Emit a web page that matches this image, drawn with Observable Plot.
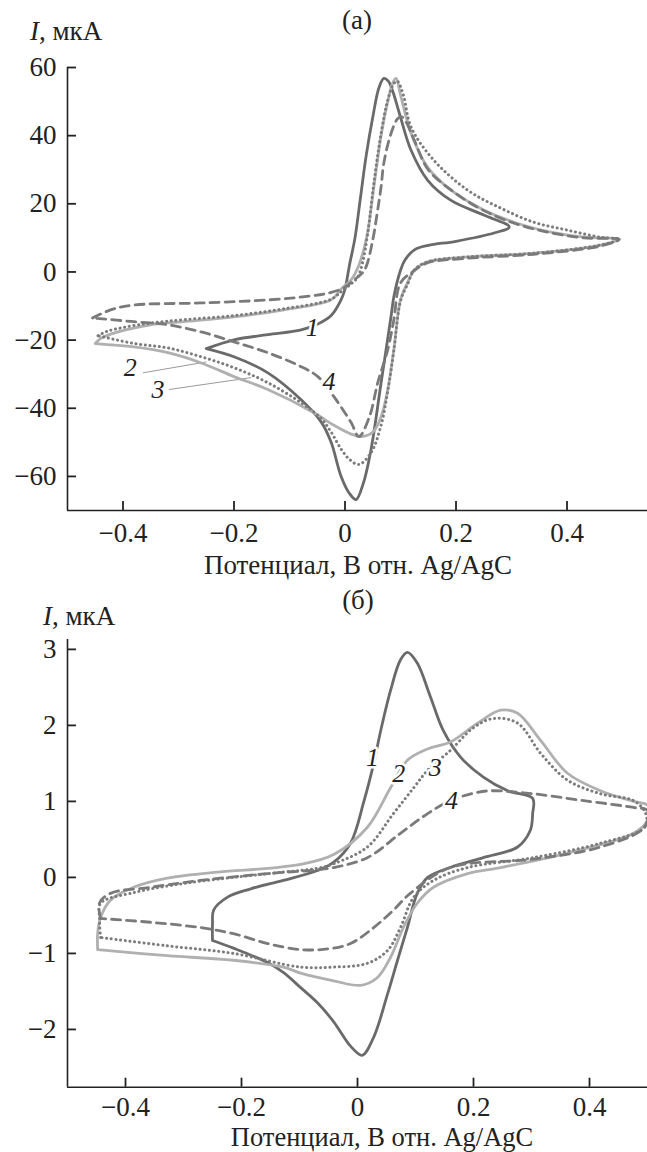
<!DOCTYPE html>
<html>
<head>
<meta charset="utf-8">
<script src="https://cdn.jsdelivr.net/npm/d3@7"></script>
<script src="https://cdn.jsdelivr.net/npm/@observablehq/plot@0.6"></script>
<style>
  html, body { margin: 0; padding: 0; background: #fff; }
  #root { position: relative; width: 647px; height: 1152px; overflow: hidden; font-family: "Liberation Serif", "DejaVu Serif", serif; color: #222; }
  .t { position: absolute; font-size: 27px; line-height: 20px; white-space: nowrap; }
  .c { transform: translateX(-50%); }
  svg { position: absolute; left: 0; }
</style>
</head>
<body>
<div id="root"></div>
<script>
// ---------------- DATA ----------------
const xTitle = "Потенциал, В отн. Ag/AgC";
const panelTitles = ["(а)", "(б)"];
const seriesNames = ["1", "2", "3", "4"];

// Panel (а): current, µA vs potential, V
const xTicksA = [-0.4, -0.2, 0, 0.2, 0.4];
const yTicksA = [-60, -40, -20, 0, 20, 40, 60];
const xDomainA = [-0.5, 0.545];
const yDomainA = [-70, 60];

const a1 = [[-0.25,-22.5],[-0.2,-19.9],[-0.139,-18.4],[-0.079,-17],[-0.049,-15.3],[-0.025,-12.8],[-0.008,-8.5],[0,-5],[0.008,2],[0.018,10],[0.028,22],[0.038,34],[0.05,45.4],[0.061,54],[0.07,56.8],[0.078,56],[0.086,53],[0.1,45.4],[0.119,35.7],[0.149,26.9],[0.191,21],[0.25,16.7],[0.296,13.2],
  [0.27,11.5],[0.2,9],[0.15,7.8],[0.125,6.5],[0.108,3.5],[0.1,0.5],[0.088,-7.3],[0.083,-13],[0.065,-32.5],[0.047,-52],[0.033,-62],[0.02,-66.8],[0.008,-65],[-0.007,-60],[-0.025,-50],[-0.043,-44],[-0.079,-37.5],[-0.139,-29.6],[-0.2,-24.9],[-0.25,-22.5]];
const a2 = [[-0.45,-21],[-0.44,-19.5],[-0.409,-17.6],[-0.35,-15.5],[-0.29,-14.6],[-0.2,-13.2],[-0.11,-11.1],[-0.025,-8.2],[-0.007,-5],[0.011,-2.3],[0.025,2],[0.04,11],[0.052,25],[0.065,40],[0.077,50],[0.086,55.5],[0.092,56.8],[0.1,52],[0.119,40.7],[0.149,30.7],[0.191,24],[0.25,18.2],[0.31,14.3],[0.371,11.7],[0.431,10.2],[0.494,9.6],
  [0.46,7.9],[0.34,5.5],[0.22,4.4],[0.149,3],[0.125,0.6],[0.113,-3],[0.1,-8.2],[0.088,-22.8],[0.077,-34.5],[0.065,-42.5],[0.05,-47],[0.029,-48.3],[0.01,-47.5],[-0.02,-45],[-0.056,-41.3],[-0.139,-34.5],[-0.2,-30.7],[-0.259,-26.7],[-0.319,-23.7],[-0.38,-22],[-0.45,-21]];
const a3 = [[-0.445,-18.7],[-0.43,-17.5],[-0.4,-16.3],[-0.35,-15],[-0.29,-14],[-0.2,-12.8],[-0.11,-10.8],[-0.025,-8],[-0.005,-5.5],[0.011,-3.5],[0.023,-1.5],[0.032,3],[0.041,11.4],[0.052,26],[0.065,40.7],[0.077,50.4],[0.088,55.3],[0.094,56],[0.105,52],[0.119,42.5],[0.16,32.8],[0.221,24],[0.281,18.7],[0.34,14.6],[0.4,12.3],[0.46,10.2],[0.494,9.6],
  [0.46,7.9],[0.34,5.5],[0.22,4.4],[0.149,3],[0.125,0.6],[0.113,-3.5],[0.1,-8.5],[0.088,-23],[0.077,-35],[0.065,-45],[0.047,-53],[0.025,-56.5],[0.008,-55],[-0.007,-52],[-0.025,-47],[-0.043,-43],[-0.079,-38.4],[-0.139,-32.5],[-0.2,-28.1],[-0.259,-24.9],[-0.319,-22.3],[-0.38,-21],[-0.445,-18.7]];
const a4 = [[-0.455,-13.5],[-0.42,-11],[-0.38,-9.7],[-0.259,-9.1],[-0.139,-8.2],[-0.06,-7],[-0.025,-6],[0,-4.5],[0.015,-2.5],[0.03,-0.5],[0.038,1.5],[0.05,9.4],[0.058,17.3],[0.065,25],[0.07,32],[0.083,40.7],[0.095,45],[0.102,45.5],[0.11,44],[0.125,38.6],[0.15,30],[0.2,23],[0.25,18],[0.31,14],[0.371,11.5],[0.431,10],[0.494,9.6],
  [0.46,7.6],[0.34,5.2],[0.22,4],[0.149,2.7],[0.125,0.4],[0.1,-3.2],[0.088,-14],[0.077,-22.8],[0.059,-32.5],[0.044,-42.5],[0.025,-48.3],[0.011,-44.2],[-0.02,-36.6],[-0.049,-30.7],[-0.079,-27.8],[-0.139,-23.7],[-0.2,-20.5],[-0.259,-17.6],[-0.319,-15.5],[-0.38,-14.6],[-0.455,-13.5]];
const labelsA = [["1",-0.059,-16.4],["2",-0.387,-28.1],["3",-0.337,-34.5],["4",-0.029,-32.2]];
const leadersA = [[-0.364,-29.6,-0.25,-26.4],[-0.317,-34.5,-0.169,-31]];

// Panel (б)
const xTicksB = [-0.4, -0.2, 0, 0.2, 0.4];
const yTicksB = [-2, -1, 0, 1, 2, 3];
const xDomainB = [-0.5, 0.5];
const yDomainB = [-2.76, 3.13];

const b1 = [[-0.25,-0.83],[-0.25,-0.6],[-0.248,-0.43],[-0.224,-0.26],[-0.184,-0.15],[-0.128,-0.04],[-0.069,0.09],[-0.041,0.2],[-0.012,0.45],[0.011,1.0],[0.028,1.5],[0.04,1.93],[0.057,2.46],[0.074,2.86],[0.086,2.96],[0.103,2.82],[0.126,2.37],[0.148,1.93],[0.178,1.58],[0.217,1.32],[0.259,1.14],[0.302,1.04],
  [0.302,0.84],[0.298,0.62],[0.276,0.4],[0.217,0.26],[0.16,0.13],[0.121,0],[0.103,-0.21],[0.086,-0.66],[0.069,-1.09],[0.052,-1.53],[0.028,-2.1],[0.008,-2.34],[-0.012,-2.22],[-0.041,-1.9],[-0.069,-1.65],[-0.098,-1.45],[-0.128,-1.25],[-0.155,-1.12],[-0.214,-0.93],[-0.25,-0.83]];
const b2 = [[-0.448,-0.95],[-0.448,-0.74],[-0.443,-0.53],[-0.426,-0.3],[-0.386,-0.13],[-0.328,-0.01],[-0.241,0.07],[-0.155,0.12],[-0.098,0.17],[-0.041,0.3],[0.017,0.66],[0.057,1.18],[0.086,1.54],[0.121,1.69],[0.16,1.78],[0.207,2.03],[0.247,2.2],[0.276,2.16],[0.316,1.8],[0.362,1.37],[0.419,1.14],[0.476,1.0],[0.5,0.95],
  [0.5,0.75],[0.476,0.58],[0.362,0.32],[0.247,0.13],[0.19,0.05],[0.131,-0.13],[0.103,-0.34],[0.079,-0.66],[0.057,-1.05],[0.034,-1.32],[0.005,-1.42],[-0.041,-1.36],[-0.098,-1.26],[-0.128,-1.18],[-0.214,-1.09],[-0.328,-1.03],[-0.448,-0.95]];
const b3 = [[-0.443,-0.79],[-0.445,-0.53],[-0.443,-0.34],[-0.386,-0.2],[-0.3,-0.08],[-0.214,0],[-0.128,0.07],[-0.069,0.12],[-0.041,0.18],[0.017,0.4],[0.062,0.84],[0.097,1.18],[0.121,1.41],[0.16,1.67],[0.2,1.97],[0.234,2.09],[0.276,2.03],[0.316,1.63],[0.362,1.28],[0.419,1.1],[0.476,1.01],[0.497,0.84],
  [0.495,0.66],[0.419,0.45],[0.303,0.26],[0.19,0.13],[0.131,-0.04],[0.097,-0.26],[0.074,-0.66],[0.052,-0.96],[0.017,-1.13],[-0.041,-1.18],[-0.098,-1.18],[-0.214,-1.0],[-0.328,-0.9],[-0.443,-0.79]];
const b4 = [[-0.443,-0.54],[-0.445,-0.34],[-0.426,-0.21],[-0.357,-0.13],[-0.271,-0.04],[-0.155,0.05],[-0.069,0.1],[-0.041,0.13],[0.017,0.26],[0.074,0.58],[0.121,0.84],[0.16,1.01],[0.207,1.12],[0.234,1.14],[0.303,1.1],[0.39,1.01],[0.476,0.92],[0.5,0.88],
  [0.495,0.66],[0.419,0.4],[0.303,0.24],[0.16,0.13],[0.091,-0.21],[0.062,-0.43],[0.028,-0.66],[-0.012,-0.87],[-0.05,-0.94],[-0.098,-0.95],[-0.155,-0.87],[-0.214,-0.74],[-0.271,-0.66],[-0.357,-0.59],[-0.443,-0.54]];
const labelsB = [["1",0.026,1.58],["2",0.071,1.37],["3",0.134,1.45],["4",0.162,1.01]];

// ---------------- STYLE ----------------
const seriesStyle = [
  {stroke: "#6a6a6a", strokeWidth: 2.8},
  {stroke: "#b0b0b0", strokeWidth: 2.8},
  {stroke: "#7c7c7c", strokeWidth: 3, strokeDasharray: "0.1 4.6", strokeLinecap: "round"},
  {stroke: "#7a7a7a", strokeWidth: 2.8, strokeDasharray: "9 6"}
];
const W = 647;
const FS = 27;
const fmt = d => d === 0 ? "0" : String(d).replace("-", "\u2212");

function panel({curves, xDomain, yDomain, xTicks, yTicks, top, height, marginTop, marginBottom, labels, leaders, xPad}) {
  const marks = [];
  if (leaders) {
    marks.push(Plot.link(leaders, {x1: d => d[0], y1: d => d[1], x2: d => d[2], y2: d => d[3], stroke: "#9a9a9a", strokeWidth: 1}));
  }
  curves.forEach((c, i) => {
    marks.push(Plot.line(c, {x: d => d[0], y: d => d[1], curve: "catmull-rom", strokeLinejoin: "round", ...seriesStyle[i]}));
  });
  marks.push(Plot.text(labels, {x: d => d[1], y: d => d[2], text: d => d[0], fontStyle: "italic", fontSize: 26, fill: "#222", stroke: "white", strokeWidth: 5, paintOrder: "stroke"}));
  marks.push(Plot.ruleX([xDomain[0]], {stroke: "#222", strokeWidth: 1.6}));
  marks.push(Plot.ruleY([yDomain[0]], {stroke: "#222", strokeWidth: 1.6}));
  marks.push(Plot.axisX({ticks: xTicks, tickFormat: fmt, tickSize: -9, tickPadding: xPad, strokeWidth: 1.8, stroke: "#222", fill: "#222"}));
  marks.push(Plot.axisY({ticks: yTicks, tickFormat: fmt, tickSize: -9, tickPadding: 20, strokeWidth: 1.8, stroke: "#222", fill: "#222"}));
  const svg = Plot.plot({
    width: W, height,
    marginLeft: 67, marginRight: 0, marginTop, marginBottom,
    x: {domain: xDomain, label: null},
    y: {domain: yDomain, label: null},
    style: {fontFamily: "Liberation Serif, serif", fontSize: FS + "px", background: "transparent", overflow: "visible"},
    marks
  });
  svg.style.top = top + "px";
  return svg;
}

const root = document.getElementById("root");
root.appendChild(panel({curves: [a1, a2, a3, a4], xDomain: xDomainA, yDomain: yDomainA, xTicks: xTicksA, yTicks: yTicksA,
  top: 0, height: 590, marginTop: 67, marginBottom: 80, labels: labelsA, leaders: leadersA, xPad: 21}));
root.appendChild(panel({curves: [b1, b2, b3, b4], xDomain: xDomainB, yDomain: yDomainB, xTicks: xTicksB, yTicks: yTicksB,
  top: 590, height: 562, marginTop: 49, marginBottom: 65.3, labels: labelsB, xPad: 19}));

// place text by baseline (line-height 20px)
function addText(html, left, baseline, center, size) {
  const d = document.createElement("div");
  d.className = "t" + (center ? " c" : "");
  const fs = size || 27;
  d.style.fontSize = fs + "px";
  d.style.left = left + "px"; d.style.top = (baseline - 10 - 0.3375 * fs) + "px";
  d.innerHTML = html;
  root.appendChild(d);
}
addText(panelTitles[0], 357, 29, true);
addText(panelTitles[1], 358, 609, true);
addText("<i>I</i>, мкА", 30, 40, false);
addText("<i>I</i>, мкА", 43, 625, false);
addText(xTitle, 358, 574, true);
addText(xTitle, 382, 1146, true, 26.5);
</script>
</body>
</html>
